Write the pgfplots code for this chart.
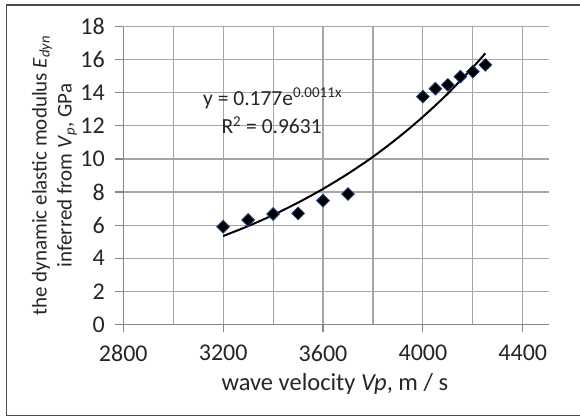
\documentclass[border=0pt]{standalone}
\usepackage{fontspec}
\setmainfont{Carlito}
\usepackage{pgfplots}
\pgfplotsset{compat=1.18}
\definecolor{gridc}{HTML}{A6A6A6}
\definecolor{axc}{HTML}{868686}
\definecolor{mk}{HTML}{1F3D7A}
\begin{document}
\begin{tikzpicture}
\useasboundingbox (-123.3bp,-92.7bp) rectangle (456.7bp,324.3bp);
\draw[line width=1.3bp, black!70] (470bp,319.3bp) -- (-116.6bp,319.3bp) -- (-116.6bp,-91.4bp) -- (470bp,-91.4bp);
\begin{axis}[
  at={(0,0)}, anchor=south west,
  scale only axis, width=425.7bp, height=297.6bp,
  xmin=2800, xmax=4505, ymin=0, ymax=18,
  xtick={2800,3200,3600,4000,4400},
  minor xtick={3000,3400,3800,4200},
  ytick={0,2,...,18},
  axis lines*=left,
  axis line style={axc, line width=1.2bp},
  tick align=outside,
  major tick length=8bp, minor tick length=0bp,
  tick style={axc, line width=1.1bp},
  xmajorgrids, xminorgrids, ymajorgrids,
  grid style={gridc, line width=1.1bp},
  minor grid style={gridc, line width=1.1bp},
  /pgf/number format/assume math mode=true,
  /pgf/number format/1000 sep={},
  ticklabel style={font=\fontsize{24bp}{28bp}\selectfont, text=black!85},
  xticklabel style={yshift=-9bp},
  yticklabel style={xshift=-7bp},
  xlabel={wave velocity \textit{Vp}, m / s},
  xlabel style={font=\fontsize{24.5bp}{28bp}\selectfont, text=black!85, at={(axis description cs:0.497,-0.199)}, anchor=center},
  ylabel={the dynamic elastic modulus \textit{E}\textsubscript{\textit{dyn}}\\inferred from \textit{V}\textsubscript{\textit{p}}, GPa},
  ylabel style={font=\fontsize{21bp}{25bp}\selectfont, text=black!85, align=center, at={(axis description cs:-0.1616,0.5)}, anchor=center},
  clip=false,
]
\addplot[only marks, mark=square*, mark size=4.5bp, mark options={rotate=45, fill=black, draw=mk, line width=0.8bp}] coordinates {
(3200,5.90) (3300,6.31) (3400,6.67) (3500,6.71) (3600,7.48) (3700,7.88)
(4000,13.77) (4050,14.25) (4100,14.48) (4150,14.98) (4200,15.28) (4250,15.69)
};
\addplot[black, line width=2bp, smooth] coordinates {
(3200,5.34) (3300,5.94) (3400,6.61) (3500,7.36) (3600,8.19) (3700,9.11)
(3800,10.13) (3900,11.28) (4000,12.55) (4100,13.96) (4200,15.54) (4250,16.39)
};
\node[font=\fontsize{21.5bp}{24bp}\selectfont, text=black!85] at (axis cs:3398,13.67) {y = 0.177e\textsuperscript{0.0011x}};
\node[font=\fontsize{21.5bp}{24bp}\selectfont, text=black!85] at (axis cs:3394,12.05) {R\textsuperscript{2} = 0.9631};
\end{axis}
\end{tikzpicture}
\end{document}
